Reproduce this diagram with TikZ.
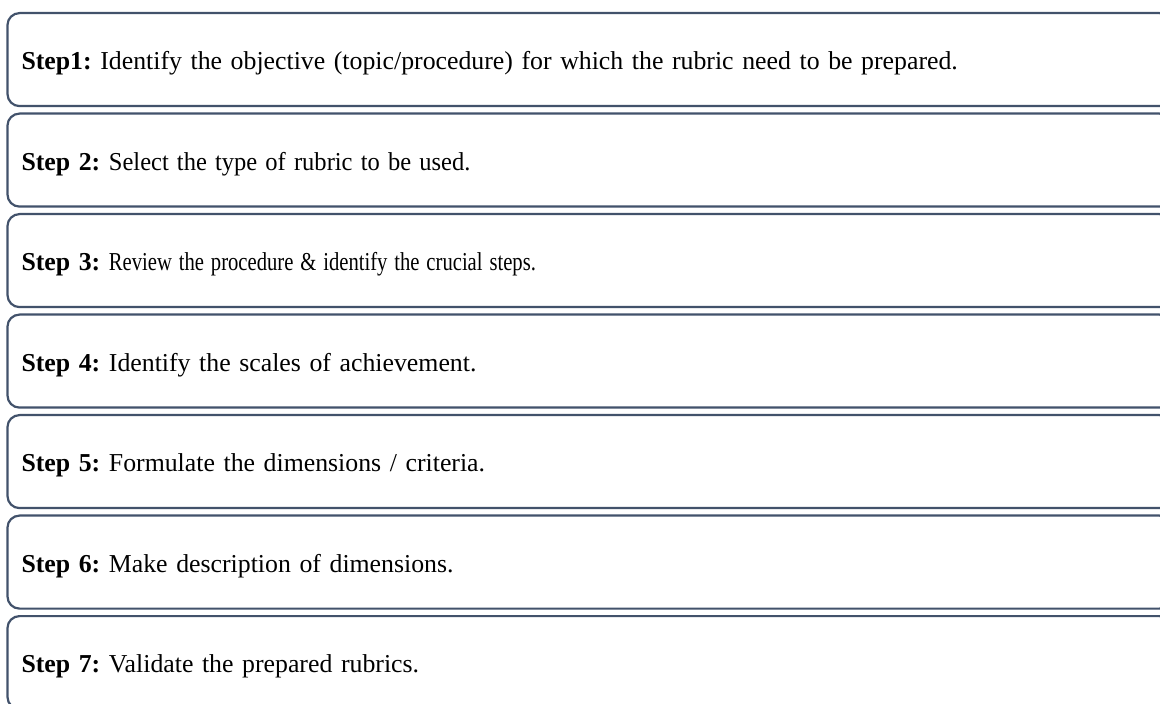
\documentclass[tikz,border=0pt]{standalone}
\usepackage{fontspec}
\setmainfont{Liberation Serif}
\usetikzlibrary{positioning}
\definecolor{boxline}{RGB}{66,82,107}
\newcommand{\narrowtext}[2]{\scalebox{#1}[1]{#2}}
\tikzset{stepbox/.style={draw=boxline, line width=1.1pt, rounded corners=6pt,
    minimum width=582pt, minimum height=46.5pt, text width=568pt, inner xsep=6.5pt,
    align=left, text height=12pt, text depth=2pt,
    font=\fontsize{12.9}{15}\selectfont\frenchspacing}}

\begin{document}
\begin{tikzpicture}[node distance=2.65pt]
                    \useasboundingbox (0,0) rectangle (580pt,-352pt);
                    \node[stepbox, anchor=north west] (s1) at (3.2pt,-6pt) {\textbf{Step1:} Identify the objective (topic/procedure) for which the rubric need to be prepared.};
                    \node[stepbox, below=of s1] (s2) {\textbf{Step 2:} \narrowtext{0.95}{Select the type of rubric to be used.}};
                    \node[stepbox, below=of s2] (s3) {\textbf{Step 3:} \narrowtext{0.8}{Review the procedure \& identify the crucial steps.}};
                    \node[stepbox, below=of s3] (s4) {\textbf{Step 4:} Identify the scales of achievement.};
                    \node[stepbox, below=of s4] (s5) {\textbf{Step 5:} Formulate the dimensions / criteria.};
                    \node[stepbox, below=of s5] (s6) {\textbf{Step 6:} Make description of dimensions.};
                    \node[stepbox, below=of s6] (s7) {\textbf{Step 7:} Validate the prepared rubrics.};
                \end{tikzpicture}
\end{document}
